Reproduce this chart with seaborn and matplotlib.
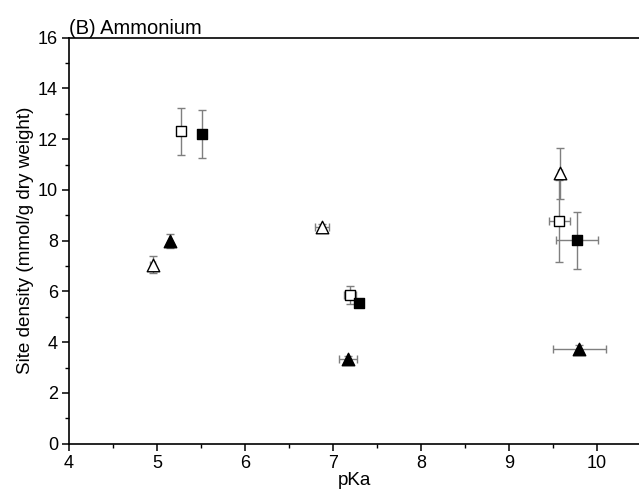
import numpy as np
import pandas as pd
import matplotlib
matplotlib.use("Agg")
import matplotlib.pyplot as plt
import seaborn as sns
from matplotlib.ticker import MultipleLocator

# ---- data ----
open_sq_x = [5.27, 7.19, 9.57]
open_sq_y = [12.31, 5.85, 8.77]
open_sq_yerr = [0.92, 0.36, 1.62]
open_sq_xerr = [0.0, 0.07, 0.12]

fill_sq_x = [5.51, 7.30, 9.77]
fill_sq_y = [12.22, 5.55, 8.02]
fill_sq_yerr = [0.95, 0.10, 1.12]
fill_sq_xerr = [0.0, 0.03, 0.24]

open_tri_x = [4.95, 6.88, 9.58]
open_tri_y = [7.06, 8.54, 10.65]
open_tri_yerr = [0.33, 0.12, 1.00]
open_tri_xerr = [0.03, 0.08, 0.02]

fill_tri_x = [5.15, 7.17, 9.80]
fill_tri_y = [7.99, 3.32, 3.74]
fill_tri_yerr = [0.27, 0.12, 0.15]
fill_tri_xerr = [0.0, 0.10, 0.30]

title = "(B) Ammonium"
xlabel = "pKa"
ylabel = "Site density (mmol/g dry weight)"

sns.set_theme(style="ticks")
plt.rcParams['font.family'] = ['Liberation Sans', 'DejaVu Sans']
plt.rcParams['text.color'] = 'black'
plt.rcParams['axes.labelcolor'] = 'black'

fig = plt.figure(figsize=(6.39, 5.0), dpi=100)
ax = fig.add_axes([0.108, 0.1126, 0.895, 0.812])

series = [
    (open_sq_x, open_sq_y, open_sq_xerr, open_sq_yerr, "s", "white", 7),
    (fill_sq_x, fill_sq_y, fill_sq_xerr, fill_sq_yerr, "s", "black", 7),
    (open_tri_x, open_tri_y, open_tri_xerr, open_tri_yerr, "^", "white", 9),
    (fill_tri_x, fill_tri_y, fill_tri_xerr, fill_tri_yerr, "^", "black", 9),
]

for xs, ys, xe, ye, mk, fc, ms in series:
    ax.errorbar(xs, ys, xerr=xe, yerr=ye, fmt="none", ecolor="#7f7f7f",
                elinewidth=1.0, capsize=3, capthick=1.0, zorder=2)

for xs, ys, xe, ye, mk, fc, ms in series:
    df = pd.DataFrame({"x": xs, "y": ys})
    sns.scatterplot(data=df, x="x", y="y", marker=mk, s=ms**2,
                    color=fc, edgecolor="black", linewidth=1.0, ax=ax, zorder=3)

ax.set_xlim(4, 10.5)
ax.set_ylim(0, 16)
ax.xaxis.set_major_locator(MultipleLocator(1))
ax.xaxis.set_minor_locator(MultipleLocator(0.5))
ax.yaxis.set_major_locator(MultipleLocator(2))
ax.yaxis.set_minor_locator(MultipleLocator(1))

for s in ["left", "bottom", "top"]:
    ax.spines[s].set_visible(True)
    ax.spines[s].set_linewidth(1.2)
    ax.spines[s].set_color("black")
ax.spines["right"].set_visible(False)

fs = 13
ax.tick_params(axis="both", which="major", direction="out", length=5, width=1.1,
               labelsize=fs, colors="black", top=False, right=False, pad=3)
ax.tick_params(axis="both", which="minor", direction="out", length=3, width=1.0,
               colors="black", top=False, right=False)

ax.set_xlabel(xlabel, fontsize=13.6, labelpad=0, color="black")
ax.set_ylabel(ylabel, fontsize=13.6, labelpad=3, color="black")
ax.set_title(title, fontsize=14.5, loc="left", pad=1, color="black")

fig.savefig("out.png", dpi=100)
